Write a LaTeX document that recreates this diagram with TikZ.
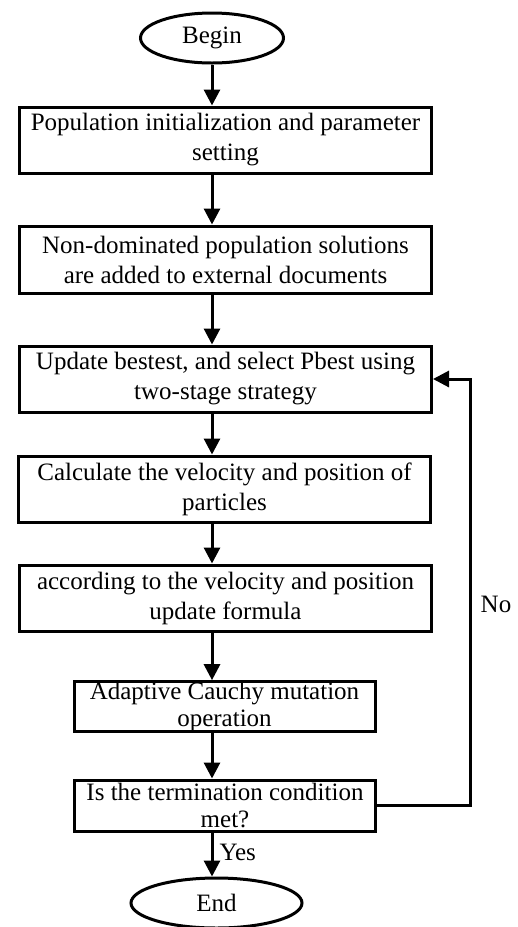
\documentclass[tikz,border=0pt]{standalone}
\usepackage{fontspec}
\setmainfont{Liberation Serif}
\usetikzlibrary{arrows.meta, shapes.geometric, positioning, calc}

\begin{document}
\begin{tikzpicture}[x=0.5pt, y=-0.5pt, line width=1.5pt,
    box/.style={draw, rectangle, align=center, inner sep=0pt, font=\fontsize{12.5}{15}\selectfont},
    smallbox/.style={box, font=\fontsize{12.5}{13.5}\selectfont},
    term/.style={draw, ellipse, inner sep=0pt, font=\fontsize{12.5}{15}\selectfont},
    arr/.style={-{Triangle[width=8pt, length=8pt]}}]
      \useasboundingbox (0, 0) rectangle (518, 927);

      \node[term, minimum width=71.5pt, minimum height=25pt] (beg) at (212, 38) {Begin};
      \node[box, minimum width=206pt, minimum height=33pt] (b1) at (225.5, 140) {Population initialization and parameter\\setting};
      \node[box, minimum width=206pt, minimum height=33.5pt] (b2) at (225.5, 259.5) {Non-dominated population solutions\\are added to external documents};
      \node[box, minimum width=206pt, minimum height=33pt] (b3) at (225.5, 379) {Update bestest, and select Pbest using\\two-stage strategy};
      \node[box, minimum width=206pt, minimum height=33pt] (b4) at (224.5, 489) {Calculate the velocity and position of\\particles};
      \node[box, minimum width=206pt, minimum height=33pt] (b5) at (225.5, 598) {according to the velocity and position\\update formula};
      \node[smallbox, minimum width=150.5pt, minimum height=24.5pt] (b6) at (224.5, 706.5) {Adaptive Cauchy mutation\\operation};
      \node[smallbox, minimum width=150.5pt, minimum height=25.5pt] (b7) at (225, 805.5) {Is the termination condition\\met?};
      \node[term, minimum width=85.5pt, minimum height=25pt] (end) at (216.5, 903) {End};

      \draw[arr] (beg) -- (b1.north -| beg);
      \draw[arr] (b1.south -| beg) -- (b2.north -| beg);
      \draw[arr] (b2.south -| beg) -- (b3.north -| beg);
      \draw[arr] (b3.south -| beg) -- (b4.north -| beg);
      \draw[arr] (b4.south -| beg) -- (b5.north -| beg);
      \draw[arr] (b5.south -| beg) -- (b6.north -| beg);
      \draw[arr] (b6.south -| beg) -- (b7.north -| beg);
      \draw[arr] (b7.south -| beg) -- node[right, pos=0.45, inner sep=3pt, font=\fontsize{12.5}{15}\selectfont] (yes) {Yes} (end.north -| beg);

      % back to the update step
      \coordinate (turn) at (470, 379);
      \draw[arr] (b7.east) -| (turn) -- (b3.east);
      \node[font=\fontsize{12.5}{15}\selectfont] (no) at (496, 604) {No};

    \end{tikzpicture}
\end{document}
